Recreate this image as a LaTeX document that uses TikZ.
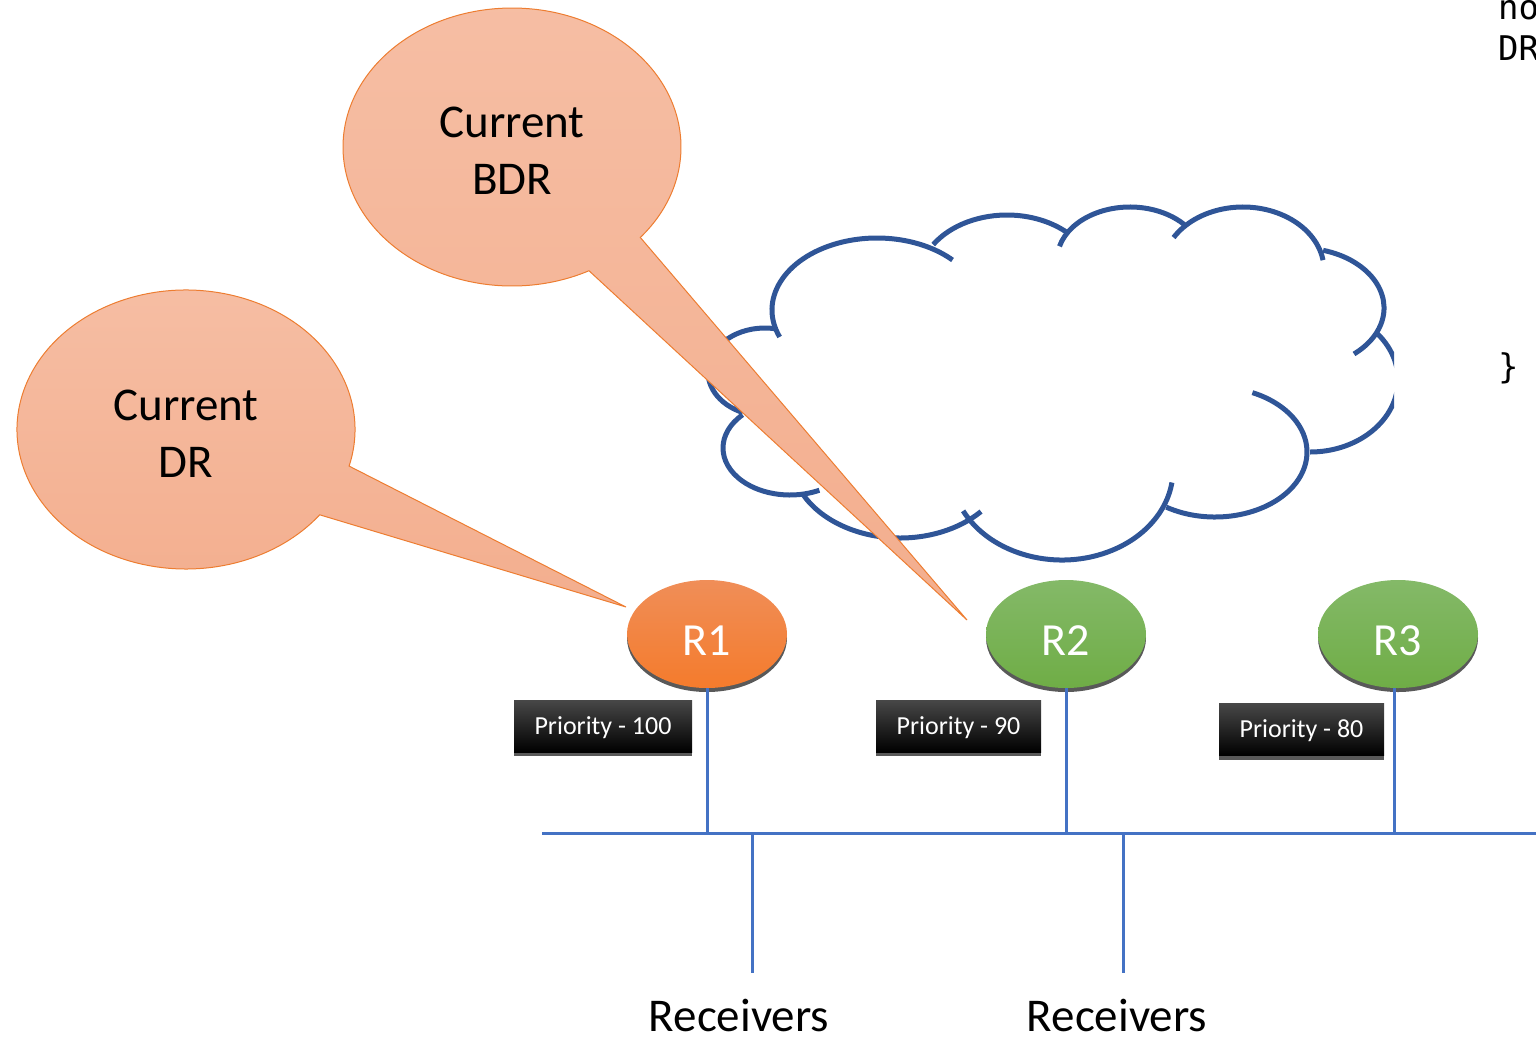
\documentclass[tikz,border=0pt]{standalone}
\usepackage{fontspec}
\setmainfont{Carlito}
\newfontfamily\codefont{DejaVu Sans Mono}
\usetikzlibrary{shapes.geometric,shadows}
\definecolor{drorange}{HTML}{ED7D31}
\definecolor{bubbletop}{HTML}{F6BEA4}
\definecolor{bubblebot}{HTML}{F3AE8E}
\definecolor{rorangetop}{HTML}{F08E58}
\definecolor{rorangebot}{HTML}{F47B2C}
\definecolor{rgreentop}{HTML}{84B968}
\definecolor{rgreenbot}{HTML}{6FAD46}
\definecolor{cloudblue}{HTML}{2F5597}
\definecolor{lanblue}{HTML}{4472C4}

\begin{document}
\begin{tikzpicture}[x=1pt,y=1pt]
    \tikzset{callout/.style={draw=drorange,line width=1pt,top color=bubbletop,bottom color=bubblebot},
      bubbletext/.style={align=center,inner sep=0pt,font=\fontsize{47}{57}\selectfont},
      router/.style={ellipse,minimum width=160pt,minimum height=108pt,inner sep=0pt,text=white,
        text height=42pt,text depth=0pt,font=\fontsize{46}{55}\selectfont,
        drop shadow={shadow xshift=0pt,shadow yshift=-4pt,opacity=1,fill=black!65}},
      orangefill/.style={top color=rorangetop,bottom color=rorangebot},
      greenfill/.style={top color=rgreentop,bottom color=rgreenbot},
      prio/.style={rectangle,minimum height=52pt,inner sep=0pt,top color=black!72,bottom color=black,
        text=white,text height=16.5pt,text depth=0pt,font=\fontsize{26}{31}\selectfont,
        drop shadow={shadow xshift=0pt,shadow yshift=-4pt,opacity=1,fill=black!65}},
      lan/.style={draw=lanblue,line width=3pt},
      rcvtext/.style={anchor=base,inner sep=0pt,font=\fontsize{47}{57}\selectfont},
      cloudline/.style={draw=cloudblue,line width=5pt},
      codetext/.style={anchor=base west,inner sep=0pt,font=\codefont\fontsize{34}{41}\selectfont}}
    \useasboundingbox (0,0) rectangle (1536,-1037);

    % cloud, cut off by the code box on the right
    \begin{scope}
      \clip (0,0) rectangle (1394,-1037);
      \path[cloudline] (877,-310) ++(202:105 and 72) arc[start angle=202,end angle=44,x radius=105,y radius=72];
      \path[cloudline] (765,-372) ++(80:57 and 44) arc[start angle=80,end angle=247,x radius=57,y radius=44];
      \path[cloudline] (790,-448) ++(135:67 and 47) arc[start angle=135,end angle=296,x radius=67,y radius=47];
      \path[cloudline] (900,-458) ++(207:109 and 80) arc[start angle=207,end angle=318,x radius=109,y radius=80];
      \path[cloudline] (1062,-470) ++(207:111 and 90) arc[start angle=207,end angle=352,x radius=111,y radius=90];
      \path[cloudline] (1215,-452) ++(238:92 and 65) arc[start angle=238,end angle=426,x radius=92,y radius=65];
      \path[cloudline] (1310,-380) ++(42:88 and 72) arc[start angle=42,end angle=-90,x radius=88,y radius=72];
      \path[cloudline] (1300,-308) ++(74:84 and 60) arc[start angle=74,end angle=-50,x radius=84,y radius=60];
      \path[cloudline] (1243,-270) ++(149:81 and 63) arc[start angle=149,end angle=9,x radius=81,y radius=63];
      \path[cloudline] (1130,-260) ++(165:73 and 53) arc[start angle=165,end angle=42,x radius=73,y radius=53];
      \path[cloudline] (1007,-280) ++(147:88 and 65) arc[start angle=147,end angle=46.6,x radius=88,y radius=65];
    \end{scope}

    % LAN segment
    \coordinate (busW) at (542,-833);
    \coordinate (busE) at (1536,-833);
    \coordinate (rcv1) at (752,-973);
    \coordinate (rcv2) at (1123,-973);
    \draw[lan] (busW) -- (busE);
    \draw[lan] (rcv1 |- busW) -- (rcv1);
    \draw[lan] (rcv2 |- busW) -- (rcv2);

    \node[router,orangefill] (r1) at (707,-634) {R1};
    \node[router,greenfill] (r2) at (1066,-634) {R2};
    \node[router,greenfill] (r3) at (1398,-634) {R3};
    \draw[lan] (r1.south) -- (r1.south |- busW);
    \draw[lan] (r2.south) -- (r2.south |- busW);
    \draw[lan] ([xshift=-4pt]r3.south) -- ([xshift=-4pt]r3.south |- busW);

    \node[prio,minimum width=178pt] (p1) at (603,-726) {Priority - 100};
    \node[prio,minimum width=165pt] (p2) at (958.5,-726) {Priority - 90};
    \node[prio,minimum width=165pt] (p3) at (1301.5,-729.5) {Priority - 80};

    \node[rcvtext] (rcvtext1) at (739,-1031) {Receivers};
    \node[rcvtext] (rcvtext2) at (1117,-1031) {Receivers};

    % speech bubbles
    \coordinate (drtip) at (626,-607);
    \coordinate (bdrtip) at (967,-620);
    \path[callout] (512,-147) ++(-40.6:169 and 139) arc[start angle=-40.6,end angle=297.1,x radius=169,y radius=139] -- (bdrtip) -- cycle;
    \path[callout] (186,-429.5) ++(-15.2:169 and 139.5) arc[start angle=-15.2,end angle=322.3,x radius=169,y radius=139.5] -- (drtip) -- cycle;
    \node[bubbletext] (bdrtext) at (512,-151) {Current\\BDR};
    \node[bubbletext] (drtext) at (186,-434) {Current\\DR};

    \node[codetext] (code1) at (1498,-19) {no};
    \node[codetext] (code2) at (1498,-60) {DR};
    \node[codetext] (code3) at (1498,-378) {\}};
  \end{tikzpicture}
\end{document}
